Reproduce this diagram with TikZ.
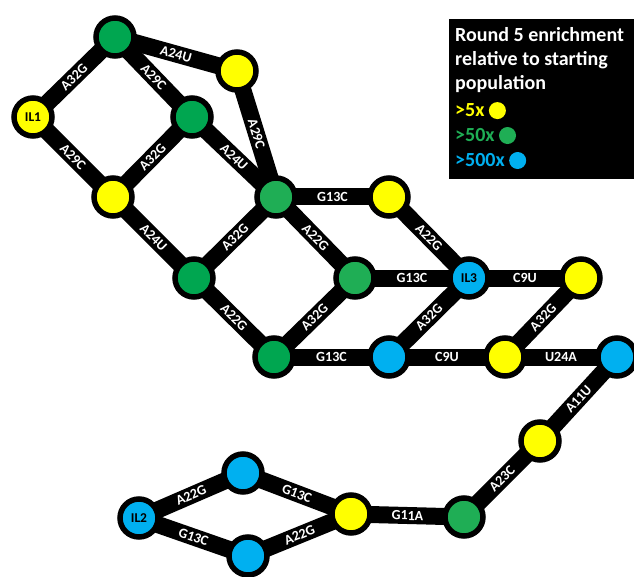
\documentclass[tikz,border=0pt]{standalone}
\usepackage{fontspec}
\setmainfont{Carlito}
\usepackage{tikz}
\usetikzlibrary{positioning, backgrounds}
\definecolor{hitY}{HTML}{FFFF00}
\definecolor{hitG}{HTML}{00A650}
\definecolor{hitGl}{HTML}{1FAE55}
\definecolor{hitB}{HTML}{00B0F0}

\begin{document}
\begin{tikzpicture}[x=1pt, y=-1pt,
    var/.style={circle, draw=black, line width=5.5pt, minimum size=38pt, inner sep=0pt,
                font=\bfseries\fontsize{13.5}{13.5}\selectfont},
    link/.style={black, line width=17pt},
    mut/.style={midway, sloped, text=white, inner sep=0pt,
                font=\bfseries\fontsize{14}{14}\selectfont},
    key/.style={anchor=base west, inner sep=0pt, font=\bfseries\fontsize{20}{24}\selectfont},
    dot/.style={circle, minimum size=17pt, inner sep=0pt}]

\useasboundingbox (0,0) rectangle (634,577);

\node[var, fill=hitY] (il1) at (33,117) {IL1};
\node[var, fill=hitG] (g1) at (115,37) {};
\node[var, fill=hitY] (y1) at (237,71) {};
\node[var, fill=hitG] (g2) at (192,117) {};
\node[var, fill=hitY] (y2) at (113,197) {};
\node[var, fill=hitGl] (g3) at (276,197) {};
\node[var, fill=hitY] (y3) at (389,197) {};
\node[var, fill=hitG] (g4) at (194,278) {};
\node[var, fill=hitGl] (g5) at (355,278) {};
\node[var, fill=hitB] (il3) at (469,278) {IL3};
\node[var, fill=hitY] (y4) at (581,278) {};
\node[var, fill=hitG] (g6) at (274,357) {};
\node[var, fill=hitB] (b1) at (389,357) {};
\node[var, fill=hitY] (y5) at (505,357) {};
\node[var, fill=hitB] (b2) at (617,357) {};
\node[var, fill=hitY] (y6) at (540,441) {};
\node[var, fill=hitGl] (g7) at (464,517) {};
\node[var, fill=hitY] (y7) at (351,514) {};
\node[var, fill=hitB] (b3) at (243,473) {};
\node[var, fill=hitB] (il2) at (139,518) {IL2};
\node[var, fill=hitB] (b4) at (248,556) {};

\begin{scope}[on background layer]
\draw[link] (il1.center) -- node[mut] {A32G} (g1.center);
\draw[link] (il1.center) -- node[mut] {A29C} (y2.center);
\draw[link] (g1.center) -- node[mut] {A24U} (y1.center);
\draw[link] (g1.center) -- node[mut] {A29C} (g2.center);
\draw[link] (y2.center) -- node[mut] {A32G} (g2.center);
\draw[link] (g2.center) -- node[mut] {A24U} (g3.center);
\draw[link] (y1.center) -- node[mut] {A29C} (g3.center);
\draw[link] (y2.center) -- node[mut] {A24U} (g4.center);
\draw[link] (g4.center) -- node[mut] {A32G} (g3.center);
\draw[link] (g3.center) -- node[mut] {G13C} (y3.center);
\draw[link] (g3.center) -- node[mut] {A22G} (g5.center);
\draw[link] (y3.center) -- node[mut] {A22G} (il3.center);
\draw[link] (g4.center) -- node[mut] {A22G} (g6.center);
\draw[link] (g6.center) -- node[mut] {A32G} (g5.center);
\draw[link] (g5.center) -- node[mut] {G13C} (il3.center);
\draw[link] (il3.center) -- node[mut] {C9U} (y4.center);
\draw[link] (b1.center) -- node[mut] {A32G} (il3.center);
\draw[link] (g6.center) -- node[mut] {G13C} (b1.center);
\draw[link] (b1.center) -- node[mut] {C9U} (y5.center);
\draw[link] (y5.center) -- node[mut] {A32G} (y4.center);
\draw[link] (y5.center) -- node[mut] {U24A} (b2.center);
\draw[link] (y6.center) -- node[mut] {A11U} (b2.center);
\draw[link] (g7.center) -- node[mut] {A23C} (y6.center);
\draw[link] (y7.center) -- node[mut] {G11A} (g7.center);
\draw[link] (b3.center) -- node[mut] {G13C} (y7.center);
\draw[link] (il2.center) -- node[mut] {A22G} (b3.center);
\draw[link] (il2.center) -- node[mut] {G13C} (b4.center);
\draw[link] (b4.center) -- node[mut] {A22G} (y7.center);
\end{scope}

\node[fill=black, anchor=north west, inner sep=0pt,
      minimum width=190pt, minimum height=160pt] (legend) at (449,19) {};
\node[key, text=white] (t1) at (455,42) {Round 5 enrichment};
\node[key, text=white] (t2) at (455,66) {relative to starting};
\node[key, text=white] (t3) at (455,90) {population};
\node[key, text=hitY] (k5) at (455,117) {>5x};
\node[key, text=hitGl] (k50) at (455,142) {>50x};
\node[key, text=hitB] (k500) at (455,167) {>500x};
\node[dot, fill=hitY, right=4pt of k5] (d5) {};
\node[dot, fill=hitGl, right=4pt of k50] (d50) {};
\node[dot, fill=hitB, right=4pt of k500] (d500) {};
\end{tikzpicture}
\end{document}
